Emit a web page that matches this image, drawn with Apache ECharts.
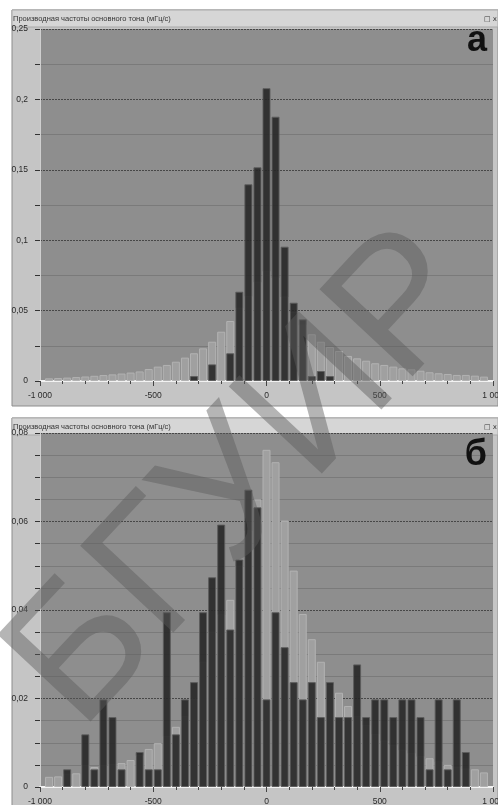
<!DOCTYPE html>
<html>
<head>
<meta charset="utf-8">
<script src="https://cdn.jsdelivr.net/npm/echarts@6/dist/echarts.min.js"></script>
<style>
    html, body {margin: 0; padding: 0; background: #fff;}
    #hist {width: 498px; height: 805px;}
</style>
</head>
<body>
<div id="hist"></div>
<script>
// bin centers, Hz/s
var binCenters = [-960, -920, -880, -840, -800, -760, -720, -680, -640, -600, -560, -520, -480, -440, -400, -360, -320,
    -280, -240, -200, -160, -120, -80, -40, 0, 40, 80, 120, 160, 200, 240, 280, 320, 360, 400, 440, 480, 520, 560,
    600, 640, 680, 720, 760, 800, 840, 880, 920, 960];

// panel a
var topLight = [0.0019, 0.0021, 0.0024, 0.0028, 0.0032, 0.0037, 0.0042, 0.0047, 0.0053, 0.006, 0.0068, 0.0085, 0.0102,
    0.0114, 0.0137, 0.0166, 0.0197, 0.0232, 0.0279, 0.035, 0.0426, 0.052, 0.0604, 0.0705, 0.0783, 0.0736, 0.06, 0.049,
    0.04, 0.0332, 0.0279, 0.0242, 0.0213, 0.0178, 0.0161, 0.0144, 0.0126, 0.0114, 0.0102, 0.009, 0.0083, 0.0073,
    0.0062, 0.0055, 0.005, 0.0043, 0.0043, 0.0038, 0.0031];
var topDark = [0, 0, 0, 0, 0, 0, 0, 0, 0, 0, 0, 0, 0, 0, 0, 0, 0.0035, 0, 0.0118, 0, 0.0197, 0.0634, 0.1397, 0.1518,
    0.208, 0.1877, 0.0954, 0.0556, 0.0438, 0.0035, 0.0071, 0.0035, 0, 0, 0, 0, 0, 0, 0, 0, 0, 0, 0, 0, 0, 0, 0, 0, 0];

// panel б
var botLight = [0.0023, 0.0024, 0.003, 0.0031, 0.005, 0.0045, 0.005, 0.0052, 0.0054, 0.0061, 0.0072, 0.0086, 0.0099,
    0.0115, 0.0136, 0.016, 0.02, 0.0283, 0.0351, 0.039, 0.0423, 0.05, 0.058, 0.065, 0.0762, 0.0734, 0.0602, 0.0489,
    0.0391, 0.0334, 0.0283, 0.023, 0.0213, 0.0183, 0.016, 0.014, 0.012, 0.0105, 0.0095, 0.0084, 0.0077, 0.007,
    0.0065, 0.0058, 0.005, 0.0045, 0.0042, 0.004, 0.0033];
var botDark = [0, 0, 0.004, 0, 0.0119, 0.004, 0.0198, 0.0158, 0.004, 0, 0.0079, 0.004, 0.004, 0.0395, 0.0119, 0.0198,
    0.0237, 0.0395, 0.0474, 0.0593, 0.0356, 0.0514, 0.0672, 0.0632, 0.0198, 0.0395, 0.0316, 0.0237, 0.0198, 0.0237,
    0.0158, 0.0237, 0.0158, 0.0158, 0.0277, 0.0158, 0.0198, 0.0198, 0.0158, 0.0198, 0.0198, 0.0158, 0.004, 0.0198,
    0.004, 0.0198, 0.0079, 0, 0];

var yTicksTop = [0, 0.05, 0.1, 0.15, 0.2, 0.25];
var yTicksBot = [0, 0.02, 0.04, 0.06, 0.08];
var xTicks = [-1000, -500, 0, 500, 1000];

var panelTitle = 'Производная частоты основного тона (мГц/с)';

window.onload = function () {
    var chart = echarts.init(document.getElementById('hist'));

    // bars sit on a hidden category axis whose slots run -1000..1000 step 40,
    // so the visible value axis keeps its exact -1000..1000 range
    var slots = ['-1000'];
    for (var i = 0; i < binCenters.length; i++) slots.push(String(binCenters[i]));
    slots.push('1000');

    function pairs(vals) {
        var out = [];
        for (var i = 0; i < binCenters.length; i++) {
            if (vals[i] > 0) out.push([i + 1, vals[i]]);
        }
        return out;
    }

    function xAxisFor(idx) {
        return {
            gridIndex: idx,
            type: 'value',
            min: xTicks[0],
            max: xTicks[xTicks.length - 1],
            interval: 500,
            axisLine: {onZero: false, lineStyle: {color: '#f2f2f2', width: 2}},
            axisTick: {length: 5, lineStyle: {color: '#444'}},
            minorTick: {show: true, splitNumber: 5, length: 3, lineStyle: {color: '#444'}},
            splitLine: {show: false},
            axisLabel: {
                color: '#2a2a2a', fontSize: 8.5, fontFamily: 'Liberation Sans', margin: 10,
                formatter: function (v) {
                    var s = String(Math.abs(v));
                    if (s.length > 3) s = s.slice(0, s.length - 3) + ' ' + s.slice(-3);
                    return (v < 0 ? '-' : '') + s;
                }
            }
        };
    }

    function slotAxisFor(idx) {
        return {gridIndex: idx, type: 'category', data: slots, boundaryGap: false, show: false};
    }

    function yAxisFor(idx, ticks, minorSplit) {
        return {
            gridIndex: idx,
            type: 'value',
            min: 0,
            max: ticks[ticks.length - 1],
            interval: ticks[1],
            axisLine: {show: true, onZero: false, lineStyle: {color: '#cfcfcf', width: 1}},
            axisTick: {show: true, length: 5, lineStyle: {color: '#333'}},
            minorTick: {show: true, splitNumber: minorSplit, length: 5, lineStyle: {color: '#333'}},
            splitLine: {show: true, lineStyle: {color: '#474747', type: [2, 1], width: 1}},
            minorSplitLine: {show: true, lineStyle: {color: '#7a7a7a', width: 1}},
            axisLabel: {
                color: '#2a2a2a', fontSize: 8.5, fontFamily: 'Liberation Sans', margin: 12,
                formatter: function (v) {
                    return String(+v.toFixed(3)).replace('.', ',');
                }
            }
        };
    }

    function lightBars(axisIdx, yIdx, vals) {
        return {
            type: 'bar', xAxisIndex: axisIdx, yAxisIndex: yIdx,
            data: pairs(vals), barWidth: 8, barGap: '-100%',
            itemStyle: {color: '#a0a0a0', borderColor: '#b2b2b2', borderWidth: 1},
            silent: true
        };
    }

    function darkBars(axisIdx, yIdx, vals) {
        return {
            type: 'bar', xAxisIndex: axisIdx, yAxisIndex: yIdx,
            data: pairs(vals), barWidth: 8, barGap: '-100%',
            itemStyle: {color: '#272727', borderColor: '#5c5c5c', borderWidth: 1, opacity: 0.9},
            silent: true
        };
    }

    // frame of each window: panel, title bar and a small corner label
    function frame(top, h, letter, letterY) {
        return [
            {type: 'rect', z: -10, shape: {x: 12, y: top, width: 486, height: h},
                style: {fill: '#c5c5c5', stroke: '#8d8d8d', lineWidth: 1}},
            {type: 'rect', z: -9, shape: {x: 12, y: top, width: 486, height: 17},
                style: {fill: '#d6d6d6', stroke: '#a9a9a9', lineWidth: 1}},
            {type: 'text', z: -8, x: 13, y: top + 9,
                style: {text: panelTitle, font: '7.5px "Liberation Sans"', fill: '#333', verticalAlign: 'middle'}},
            {type: 'text', z: -8, x: 497, y: top + 9,
                style: {text: '□ x', font: '7px "DejaVu Sans"', fill: '#333', align: 'right', verticalAlign: 'middle'}},
            {type: 'text', z: 50, x: 487, y: letterY,
                style: {text: letter, font: 'bold 36px "Liberation Sans"', fill: '#111', align: 'right', verticalAlign: 'middle'}}
        ];
    }

    var graphics = [].concat(
        frame(10, 396, 'а', 41),
        frame(418, 390, 'б', 455),
        [{
            // watermark across both windows
            type: 'text', z: 100, x: 246, y: 480, rotation: 0.82,
            style: {text: 'БГУИР', font: '185px "Liberation Sans"', fill: 'rgba(90,90,90,0.45)',
                align: 'center', verticalAlign: 'middle'}
        }]
    );

    var option = {
        backgroundColor: '#ffffff',
        animation: false,
        grid: [
            {left: 40, right: 5, top: 29, bottom: 424, outerBoundsMode: 'none',
                show: true, backgroundColor: '#8e8e8e', borderWidth: 0},
            {left: 40, right: 5, top: 433, bottom: 18, outerBoundsMode: 'none',
                show: true, backgroundColor: '#8e8e8e', borderWidth: 0}
        ],
        xAxis: [xAxisFor(0), slotAxisFor(0), xAxisFor(1), slotAxisFor(1)],
        yAxis: [yAxisFor(0, yTicksTop, 2), yAxisFor(1, yTicksBot, 4)],
        series: [
            lightBars(1, 0, topLight), darkBars(1, 0, topDark),
            lightBars(3, 1, botLight), darkBars(3, 1, botDark)
        ],
        graphic: graphics
    };

    chart.setOption(option);
};
</script>
</body>
</html>
